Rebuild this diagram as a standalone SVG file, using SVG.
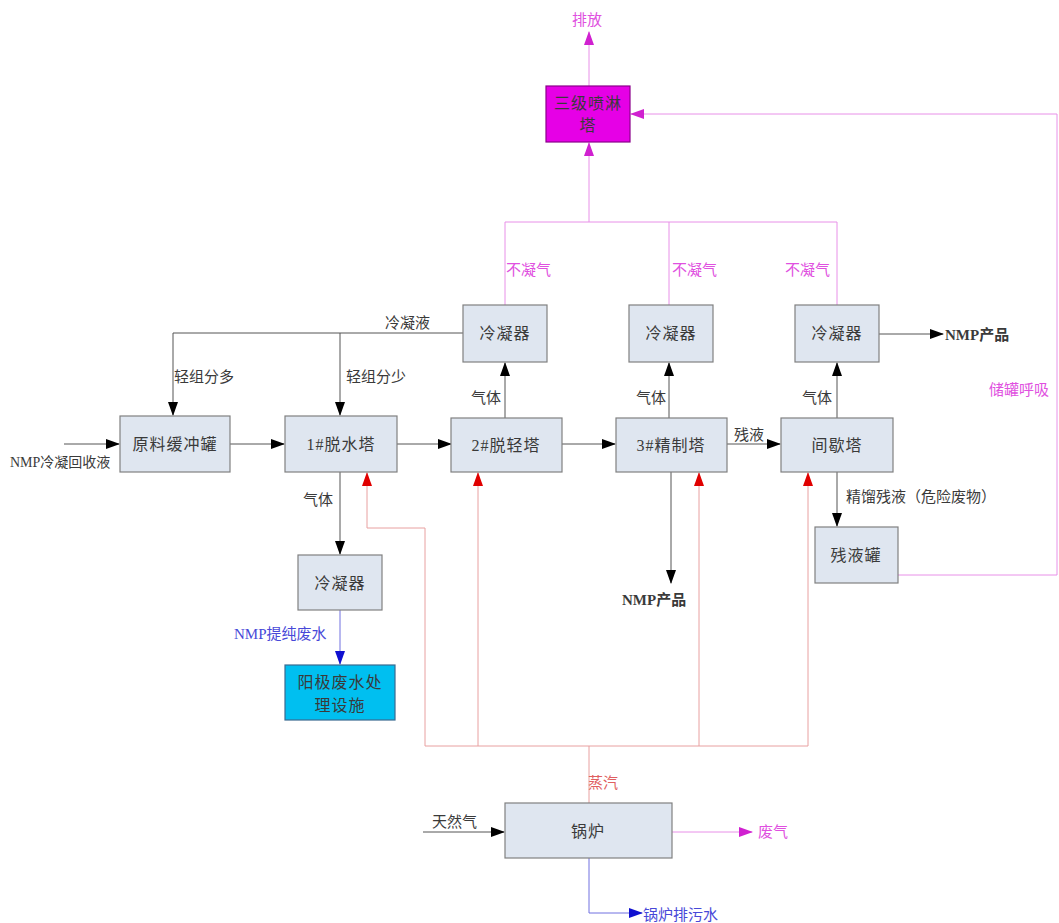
<svg xmlns="http://www.w3.org/2000/svg" width="1059" height="923" viewBox="0 0 1059 923">
<style>
text{font-family:"Liberation Serif","Noto Sans CJK SC",serif;font-size:15px;fill:#3a3a3a}
.bt{font-size:16px;text-anchor:middle;letter-spacing:1px}
.box{fill:#dfe6f0;stroke:#808080;stroke-width:1.2}
.k{stroke:#555;stroke-width:1;fill:none}
.m{stroke:#e890e8;stroke-width:1;fill:none}
.r{stroke:#e8a0a0;stroke-width:1;fill:none}
.b{stroke:#7070e0;stroke-width:1;fill:none}
.mt{fill:#e050e0}
.rt{fill:#e06060}
.blt{fill:#4848d8}
.bold{font-weight:bold}
</style>
<defs>
<marker id="ak" markerUnits="userSpaceOnUse" markerWidth="14" markerHeight="10" refX="13" refY="5" orient="auto"><path d="M0 0L14 5L0 10z" fill="#000"/></marker>
<marker id="am" markerUnits="userSpaceOnUse" markerWidth="14" markerHeight="10" refX="13" refY="5" orient="auto"><path d="M0 0L14 5L0 10z" fill="#d020d0"/></marker>
<marker id="ar" markerUnits="userSpaceOnUse" markerWidth="14" markerHeight="10" refX="13" refY="5" orient="auto"><path d="M0 0L14 5L0 10z" fill="#e00000"/></marker>
<marker id="ab" markerUnits="userSpaceOnUse" markerWidth="14" markerHeight="10" refX="13" refY="5" orient="auto"><path d="M0 0L14 5L0 10z" fill="#1010d0"/></marker>
</defs>
<rect width="1059" height="923" fill="#fff"/>
<g id="connectors">
<path class="k" d="M64 444H119" marker-end="url(#ak)"/>
<path class="k" d="M230 444H284" marker-end="url(#ak)"/>
<path class="k" d="M397 444H451" marker-end="url(#ak)"/>
<path class="k" d="M562 444H615" marker-end="url(#ak)"/>
<path class="k" d="M727 444H780" marker-end="url(#ak)"/>
<path class="k" d="M463 333H173V415" marker-end="url(#ak)"/>
<path class="k" d="M340 333V415" marker-end="url(#ak)"/>
<path class="k" d="M505 418V363" marker-end="url(#ak)"/>
<path class="k" d="M669 418V363" marker-end="url(#ak)"/>
<path class="k" d="M837 418V363" marker-end="url(#ak)"/>
<path class="k" d="M879 334H943" marker-end="url(#ak)"/>
<path class="k" d="M340 472V554" marker-end="url(#ak)"/>
<path class="k" d="M671 472V583" marker-end="url(#ak)"/>
<path class="k" d="M837 472V526" marker-end="url(#ak)"/>
<path class="b" d="M340 610V664" marker-end="url(#ab)"/>
<path class="m" d="M505 305V222H837V305"/>
<path class="m" d="M669 305V222"/>
<path class="m" d="M589 222V143" marker-end="url(#am)"/>
<path class="m" d="M589 86V32" marker-end="url(#am)"/>
<path class="m" d="M898 575H1057V114H631" marker-end="url(#am)"/>
<path class="r" d="M589 803V746"/>
<path class="r" d="M425 746H808"/>
<path class="r" d="M425 746V528H367V473" marker-end="url(#ar)"/>
<path class="r" d="M478 746V473" marker-end="url(#ar)"/>
<path class="r" d="M699 746V473" marker-end="url(#ar)"/>
<path class="r" d="M808 746V473" marker-end="url(#ar)"/>
<path class="k" d="M423 832H504" marker-end="url(#ak)"/>
<path class="m" d="M672 832H752" marker-end="url(#am)"/>
<path class="b" d="M589 858V913H642" marker-end="url(#ab)"/>
</g>
<g id="n-scrubber"><rect x="546" y="86" width="84" height="56" fill="#e600e6" stroke="#8a008a" stroke-width="1.2"/><text class="bt" x="588" y="109">三级喷淋</text><text class="bt" x="588" y="131">塔</text></g>
<g id="n-cond1"><rect class="box" x="463" y="305" width="84" height="57"/><text class="bt" x="505" y="339">冷凝器</text></g>
<g id="n-cond2"><rect class="box" x="629" y="305" width="84" height="57"/><text class="bt" x="671" y="339">冷凝器</text></g>
<g id="n-cond3"><rect class="box" x="795" y="305" width="84" height="57"/><text class="bt" x="837" y="339">冷凝器</text></g>
<g id="n-buffer"><rect class="box" x="120" y="416" width="110" height="56"/><text class="bt" x="175" y="450">原料缓冲罐</text></g>
<g id="n-t1"><rect class="box" x="285" y="416" width="112" height="56"/><text class="bt" x="341" y="450">1#脱水塔</text></g>
<g id="n-t2"><rect class="box" x="451" y="418" width="111" height="54"/><text class="bt" x="506" y="451">2#脱轻塔</text></g>
<g id="n-t3"><rect class="box" x="616" y="418" width="111" height="54"/><text class="bt" x="671" y="451">3#精制塔</text></g>
<g id="n-batch"><rect class="box" x="781" y="418" width="112" height="54"/><text class="bt" x="837" y="451">间歇塔</text></g>
<g id="n-cond4"><rect class="box" x="298" y="555" width="84" height="55"/><text class="bt" x="340" y="589">冷凝器</text></g>
<g id="n-residue"><rect class="box" x="815" y="527" width="83" height="56"/><text class="bt" x="856" y="561">残液罐</text></g>
<g id="n-wwt"><rect x="285" y="665" width="110" height="55" fill="#00bff0" stroke="#3a6a90" stroke-width="1.2"/><text class="bt" x="340" y="688">阳极废水处</text><text class="bt" x="340" y="711">理设施</text></g>
<g id="n-boiler"><rect class="box" x="505" y="803" width="167" height="55"/><text class="bt" x="588" y="837">锅炉</text></g>
<g id="labels">
<text class="mt" x="572" y="25">排放</text>
<text class="mt" x="506" y="275">不凝气</text>
<text class="mt" x="672" y="275">不凝气</text>
<text class="mt" x="785" y="275">不凝气</text>
<text x="385" y="328">冷凝液</text>
<text x="174" y="382">轻组分多</text>
<text x="346" y="382">轻组分少</text>
<text x="10" y="467" style="font-size:14px">NMP冷凝回收液</text>
<text x="471" y="403">气体</text>
<text x="636" y="403">气体</text>
<text x="802" y="403">气体</text>
<text x="734" y="440">残液</text>
<text x="846" y="502">精馏残液（危险废物）</text>
<text class="mt" x="989" y="395">储罐呼吸</text>
<text class="bold" x="945" y="340">NMP产品</text>
<text x="303" y="505">气体</text>
<text class="blt" x="234" y="639">NMP提纯废水</text>
<text class="bold" x="622" y="605">NMP产品</text>
<text class="rt" x="588" y="788">蒸汽</text>
<text x="432" y="827">天然气</text>
<text class="mt" x="758" y="837">废气</text>
<text class="blt" x="643" y="920">锅炉排污水</text>
</g>
</svg>
